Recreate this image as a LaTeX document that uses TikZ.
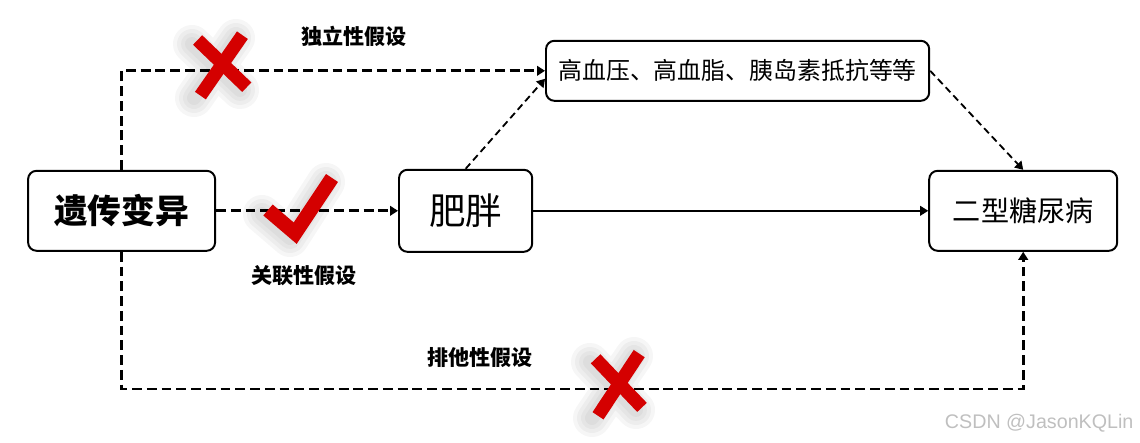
\documentclass[tikz,border=0pt]{standalone}
\usepackage{fontspec}
\newfontfamily\cjk{Noto Sans CJK SC}
\newfontfamily\wmfont{Liberation Sans}
\definecolor{markred}{RGB}{212,0,0}
\usetikzlibrary{positioning,calc,arrows.meta}

\begin{document}
\begin{tikzpicture}[
            box/.style={draw, rectangle, rounded corners=6pt, line width=1.4pt, inner sep=0pt},
            arrow/.style={-{Triangle[length=2mm,width=2.4mm]}, line width=1.1pt},
            dasharrow/.style={arrow, line width=2pt, dash pattern=on 7pt off 3.5pt},
            thindash/.style={arrow, line width=1.3pt, dash pattern=on 5pt off 3pt},
            hyp/.style={font=\cjk\bfseries\fontsize{15}{18}\selectfont},
            redmark/.style={draw=markred, line width=0.33cm},
            markshadow/.style={draw=black, line width=#1, opacity=0.035, line cap=round, line join=round}
        ]
            \useasboundingbox (0,0) rectangle (28.5,11.05);

            \node[box, minimum width=4.675cm, minimum height=2cm,
                  font=\cjk\bfseries\fontsize{24}{28}\selectfont] (gene) at (3.04,5.78) {遗传变异};
            \node[box, minimum width=3.33cm, minimum height=2.05cm,
                  font=\cjk\fontsize{26}{30}\selectfont] (obese) at (11.64,5.78) {肥胖};
            \node[box, minimum width=9.58cm, minimum height=1.5cm,
                  font=\cjk\fontsize{17}{20}\selectfont] (high) at (18.44,9.28) {高血压、高血脂、胰岛素抵抗等等};
            \node[box, minimum width=4.7cm, minimum height=2cm,
                  font=\cjk\fontsize{20}{24}\selectfont] (t2d) at (25.58,5.78) {二型糖尿病};

            \draw[dasharrow] (gene.north) |- (high.west);
            \draw[dasharrow] (gene.east) -- (obese.west);
            \draw[dasharrow] (gene.south) -- ++(0,-3.43) -| (t2d.south);
            \draw[thindash] (obese.north) -- ([yshift=-0.2cm]high.west);
            \draw[thindash] (high.east) -- (t2d.north);
            \draw[arrow] (obese.east) -- (t2d.west);

            % hypothesis labels
            \node[hyp] (indep) at (8.85,10.13) {独立性假设};
            \node[hyp] (assoc) at (7.6,4.15) {关联性假设};
            \node[hyp] (excl) at (12.0,2.1) {排他性假设};

            % soft shadows behind the marks
            \foreach \w in {0.35,0.55,0.75,0.95} {
                \draw[markshadow=\w cm] (4.8,9.95) -- (6.0,8.8) (5.9,10.1) -- (4.85,8.6);
                \draw[markshadow=\w cm] (14.75,2.0) -- (15.9,0.8) (15.85,2.15) -- (14.8,0.6);
                \draw[markshadow=\w cm] (6.55,5.7) -- (7.25,5.1) -- (8.15,6.5);
            }

            % marks
            \draw[redmark] (4.94,10.05) -- (6.17,8.87);
            \draw[redmark] (6.06,10.17) -- (5.01,8.66);
            \draw[redmark] (14.89,2.08) -- (16.05,0.865);
            \draw[redmark] (15.98,2.21) -- (14.95,0.655);
            \draw[redmark, line width=0.36cm, line join=miter] (6.7,5.8) -- (7.38,5.22) -- (8.3,6.6);

            \node[text=black!25, font=\wmfont\fontsize{14}{16}\selectfont] (wm) at (25.98,0.475) {CSDN @JasonKQLin};
        \end{tikzpicture}
\end{document}
